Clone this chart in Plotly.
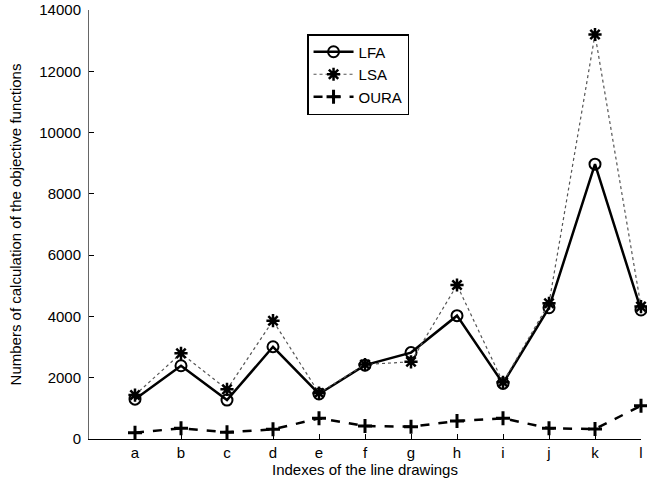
import plotly.graph_objects as go

categories = ["a", "b", "c", "d", "e", "f", "g", "h", "i", "j", "k", "l"]
lfa = [1300, 2390, 1270, 3010, 1470, 2410, 2820, 4025, 1815, 4285, 8970, 4210]
lsa = [1435, 2795, 1620, 3860, 1500, 2430, 2520, 5025, 1850, 4430, 13200, 4320]
oura = [205, 350, 220, 315, 675, 425, 400, 590, 675, 350, 325, 1085]
yticks = [0, 2000, 4000, 6000, 8000, 10000, 12000, 14000]

xpos = list(range(1, len(categories) + 1))

fig = go.Figure()
fig.add_trace(go.Scatter(
    x=xpos, y=lfa, name="LFA", mode="lines+markers", cliponaxis=False,
    line=dict(color="black", width=2.5, dash="solid"),
    marker=dict(symbol="circle-open", size=11, color="black", line=dict(width=2, color="black")),
))
fig.add_trace(go.Scatter(
    x=xpos, y=lsa, name="LSA", mode="lines+markers", cliponaxis=False,
    line=dict(color="#555555", width=1.2, dash="dot"),
    marker=dict(symbol="asterisk-open", size=11, color="black", line=dict(width=2.5, color="black")),
))
fig.add_trace(go.Scatter(
    x=xpos, y=oura, name="OURA", mode="lines+markers", cliponaxis=False,
    line=dict(color="black", width=2.5, dash="dash"),
    marker=dict(symbol="cross-thin-open", size=10, color="black", line=dict(width=3, color="black")),
))

fig.update_layout(
    width=647, height=485,
    margin=dict(l=89, r=6, t=10, b=46, autoexpand=False),
    paper_bgcolor="white", plot_bgcolor="white",
    font=dict(family="Liberation Sans, Arial, sans-serif", size=15, color="black"),
    showlegend=True,
    legend=dict(
        x=0.395, y=0.944, xanchor="left", yanchor="top",
        bordercolor="black", borderwidth=1.5, bgcolor="white",
        font=dict(size=15), tracegroupgap=0, itemwidth=40,
    ),
)
fig.update_xaxes(
    range=[0, 12], tickmode="array", tickvals=xpos, ticktext=categories,
    ticks="inside", ticklen=5, tickcolor="black", automargin=False,
    showline=True, linecolor="black", linewidth=1, showgrid=False, zeroline=False,
    title=dict(text="Indexes of the line drawings", standoff=4, font=dict(size=15)),
)
fig.update_yaxes(
    range=[0, 14000], tickmode="array", tickvals=yticks,
    ticktext=[str(v) for v in yticks], automargin=False,
    ticks="inside", ticklen=5, tickcolor="black", ticklabelstandoff=4,
    showline=True, linecolor="#666666", linewidth=1, showgrid=False, zeroline=False,
    title=dict(text="Numbers of calculation of the objective functions", standoff=14, font=dict(size=15)),
)

fig.write_html("out.html", post_script="document.body.style.margin='0';",
               config={"displayModeBar": False})
